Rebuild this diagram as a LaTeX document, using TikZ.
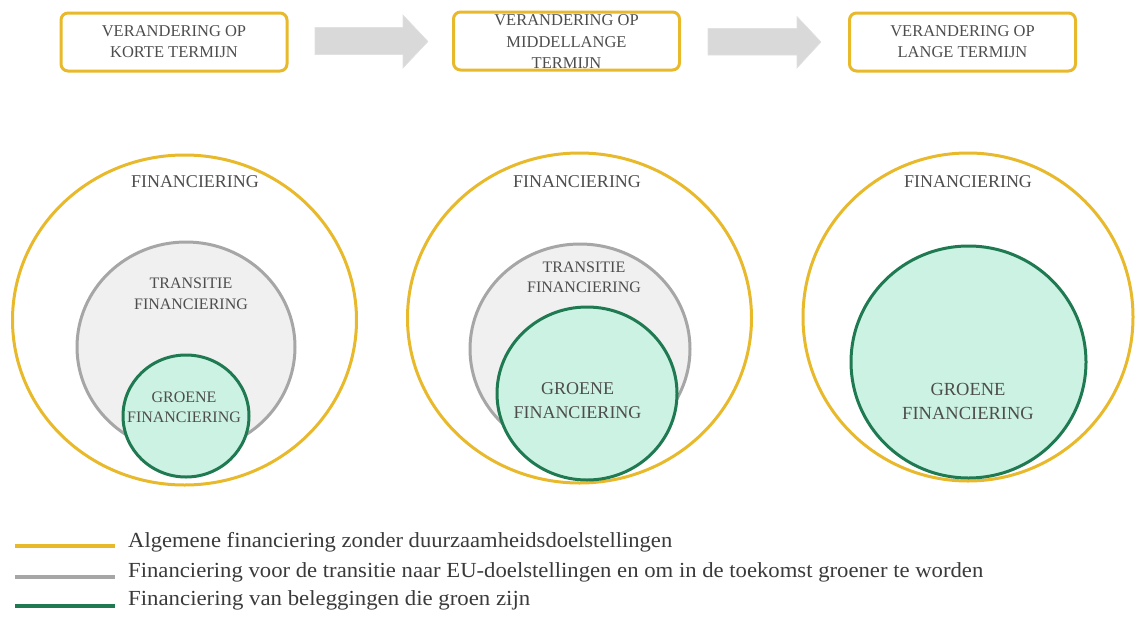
\documentclass[tikz,border=0pt]{standalone}
\usepackage{fontspec}
\setmainfont{Liberation Serif}
\usepackage{graphicx}

\definecolor{finyellow}{HTML}{E8B92B}
\definecolor{trgray}{HTML}{A6A6A6}
\definecolor{trfill}{HTML}{F0F0F0}
\definecolor{grgreen}{HTML}{1F7A52}
\definecolor{grfill}{HTML}{CCF2E3}
\definecolor{arrowfill}{HTML}{D9D9D9}
\definecolor{labeltext}{HTML}{4D4D4D}
\definecolor{legtext}{HTML}{3A3A3A}

\tikzset{
  termbox/.style={draw=finyellow, line width=3pt, rounded corners=7pt, fill=white,
    minimum width=226pt, minimum height=58pt, inner sep=0pt, align=center,
    text=labeltext, font=\fontsize{16.5}{21}\selectfont},
  steparrow/.style={fill=arrowfill, draw=arrowfill!80!white, line width=0.6pt},
  outerring/.style={draw=finyellow, line width=3pt, fill=white},
  transring/.style={draw=trgray, line width=3pt, fill=trfill},
  greenring/.style={draw=grgreen, line width=3pt, fill=grfill},
  circlabel/.style={text=labeltext, align=center, inner sep=0pt},
  legline/.style={line width=4pt},
  legend/.style={anchor=base west, inner sep=0pt, text=legtext, font=\fontsize{21.5}{26}\selectfont}
}

\begin{document}
\begin{tikzpicture}[x=1pt, y=-1pt]
\useasboundingbox (0,0) rectangle (1135,616);

% time-horizon boxes
\node[termbox] (short) at (174,42) {VERANDERING OP\\KORTE TERMIJN};
\node[termbox] (mid) at (566.5,41) {};
\node[circlabel, font=\fontsize{16.5}{21.5}\selectfont] (midtext) at (566.5,42)
  {VERANDERING OP\\MIDDELLANGE\\TERMIJN};
\node[termbox] (long) at (962.5,42) {VERANDERING OP\\LANGE TERMIJN};

% block arrows between the boxes
\draw[steparrow] (315,27.5) -- (403,27.5) -- (403,15) -- (428,41.5) -- (403,68) -- (403,54.5)
  -- (315,54.5) -- cycle;
\draw[steparrow] (708,28.5) -- (797,28.5) -- (797,16.5) -- (821,42) -- (797,68) -- (797,55)
  -- (708,55) -- cycle;

% short term
\draw[outerring] (184.5,320) ellipse [x radius=172pt, y radius=165pt];
\draw[transring] (186,347) ellipse [x radius=109pt, y radius=105pt];
\draw[greenring] (186,416) ellipse [x radius=63pt, y radius=61pt];
\node[circlabel, font=\fontsize{18}{22}\selectfont] (fin1) at (195,182) {FINANCIERING};
\node[circlabel, font=\fontsize{16}{21}\selectfont] (tr1) at (191,293.5) {TRANSITIE\\FINANCIERING};
\node[circlabel, font=\fontsize{16}{20}\selectfont] (gr1) at (184,407) {GROENE\\FINANCIERING};

% medium term
\draw[outerring] (579.5,318) ellipse [x radius=172pt, y radius=165pt];
\draw[transring] (580,349) ellipse [x radius=110pt, y radius=105pt];
\draw[greenring] (587,393.5) ellipse [x radius=90pt, y radius=86.5pt];
\node[circlabel, font=\fontsize{18}{22}\selectfont] (fin2) at (577,182) {FINANCIERING};
\node[circlabel, font=\fontsize{16}{20}\selectfont] (tr2) at (584,277.5) {TRANSITIE\\FINANCIERING};
\node[circlabel, font=\fontsize{18}{24}\selectfont] (gr2) at (577.5,401) {GROENE\\FINANCIERING};

% long term
\draw[outerring] (968,317) ellipse [x radius=165pt, y radius=164pt];
\draw[greenring] (968.5,362) ellipse [x radius=117.5pt, y radius=116pt];
\node[circlabel, font=\fontsize{18}{22}\selectfont] (fin3) at (968,182) {FINANCIERING};
\node[circlabel, font=\fontsize{18.5}{24}\selectfont] (gr3) at (968,401) {GROENE\\FINANCIERING};

% legend
\draw[legline, finyellow] (15,546) -- (115,546);
\draw[legline, trgray] (15,577) -- (115,577);
\draw[legline, grgreen] (15,606) -- (115,606);
\node[legend] (leg1) at (128,547)
  {\resizebox{544pt}{\height}{Algemene financiering zonder duurzaamheidsdoelstellingen}};
\node[legend] (leg2) at (128,577)
  {\resizebox{855pt}{\height}{Financiering voor de transitie naar EU-doelstellingen en om in de toekomst groener te worden}};
\node[legend] (leg3) at (128,605.5)
  {\resizebox{402pt}{\height}{Financiering van beleggingen die groen zijn}};
\end{tikzpicture}
\end{document}
